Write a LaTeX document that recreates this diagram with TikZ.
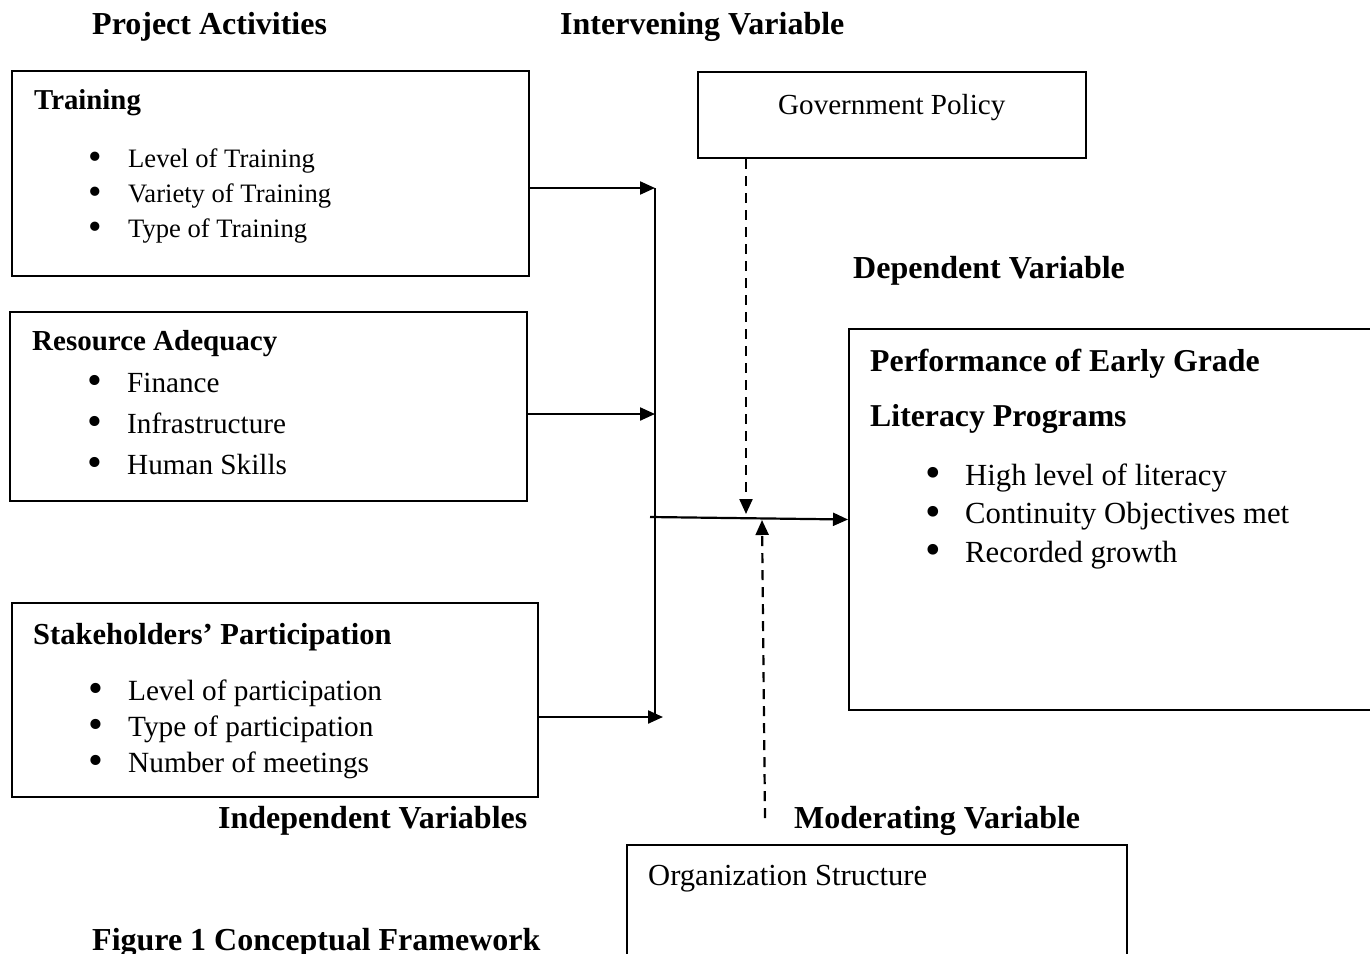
\documentclass[tikz,border=0pt]{standalone}
\usepackage{fontspec}
\setmainfont{Liberation Serif}
\usepackage{graphicx}
\usetikzlibrary{arrows.meta}
\newcommand{\bitem}[1]{\makebox[40pt][l]{\raisebox{-0.09em}{\scalebox{1.45}{\textbullet}}}#1}
\newcommand{\fs}[2]{\fontsize{#1}{#2}\selectfont}

\begin{document}
\begin{tikzpicture}[x=1pt, y=-1pt,
	box/.style={draw, line width=2pt, inner sep=0pt},
	txt/.style={anchor=west, inner sep=0pt, align=left},
	head/.style={txt, font=\fs{32}{38}\bfseries},
	arr/.style={line width=2.2pt, -{Triangle[length=15pt, width=13pt]}},
	dasharr/.style={arr, dash pattern=on 10pt off 7pt}]
	\useasboundingbox (0,0) rectangle (1370,953);
	\clip (0,0) rectangle (1370,953);

	\node[box, minimum width=517, minimum height=205] (training) at (270.5,173.5) {};
	\node[box, minimum width=517, minimum height=189] (resource) at (268.5,406.5) {};
	\node[box, minimum width=526, minimum height=194] (stake) at (275,700) {};
	\node[box, minimum width=388, minimum height=86] (govt) at (892,115) {};
	\node[box, minimum width=531, minimum height=381] (perf) at (1114.5,519.5) {};
	\node[box, minimum width=500, minimum height=120] (org) at (877,905) {};

	\node[head] (projact) at (92,27) {Project Activities};
	\node[head] (interv) at (560,27) {Intervening Variable};
	\node[head] (depend) at (853,271) {Dependent Variable};
	\node[head] (indep) at (218,821) {Independent Variables};
	\node[head] (moder) at (794,821) {Moderating Variable};
	\node[head] (caption) at (92,943) {Figure 1 Conceptual Framework};

	\node[txt, font=\fs{28.8}{34}\bfseries] (trainhead) at (34,103) {Training};
	\node[txt, font=\fs{26.6}{35}] (trainlist) at (88,196) {\bitem{Level of Training}\\ \bitem{Variety of Training}\\ \bitem{Type of Training}};

	\node[txt, font=\fs{29}{34}\bfseries] (reshead) at (32,344) {Resource Adequacy};
	\node[txt, font=\fs{29.2}{41}] (reslist) at (87,425) {\bitem{Finance}\\ \bitem{Infrastructure}\\ \bitem{Human Skills}};

	\node[txt, font=\fs{30.5}{36}\bfseries] (stakehead) at (33,637) {Stakeholders’ Participation};
	\node[txt, font=\fs{29.3}{36}] (stakelist) at (88,729) {\bitem{Level of participation}\\ \bitem{Type of participation}\\ \bitem{Number of meetings}};

	\node[txt, font=\fs{29.1}{34}] (govtext) at (778,108) {Government Policy};
	\node[txt, font=\fs{30.6}{36}] (orgtext) at (648,879) {Organization Structure};

	\node[txt, font=\fs{31.8}{55}\bfseries] (perfhead) at (870,391) {Performance of Early Grade\\ Literacy Programs};
	\node[txt, font=\fs{30.7}{38.5}] (perflist) at (925,516) {\bitem{High level of literacy}\\ \bitem{Continuity Objectives met}\\ \bitem{Recorded growth}};

	\coordinate (jtop) at (655,188);
	\coordinate (jmid) at (655,414);
	\coordinate (jbot) at (655,717);
	\coordinate (jend) at (663,717);
	\coordinate (start) at (650,517);
	\coordinate (gtip) at (746,514);
	\coordinate (mtail) at (765,818);
	\coordinate (mtip) at (762,520);

	\draw[line width=1.2pt] (jtop) -- (jbot);
	\draw[arr] (training.east |- jtop) -- (jtop);
	\draw[arr] (resource.east |- jmid) -- (jmid);
	\draw[arr] (stake.east |- jend) -- (jend);
	\draw[arr] (start) -- (perf.west);
	\draw[dasharr] (govt.south -| gtip) -- (gtip);
	\draw[dasharr] (mtail) -- (mtip);
\end{tikzpicture}
\end{document}
